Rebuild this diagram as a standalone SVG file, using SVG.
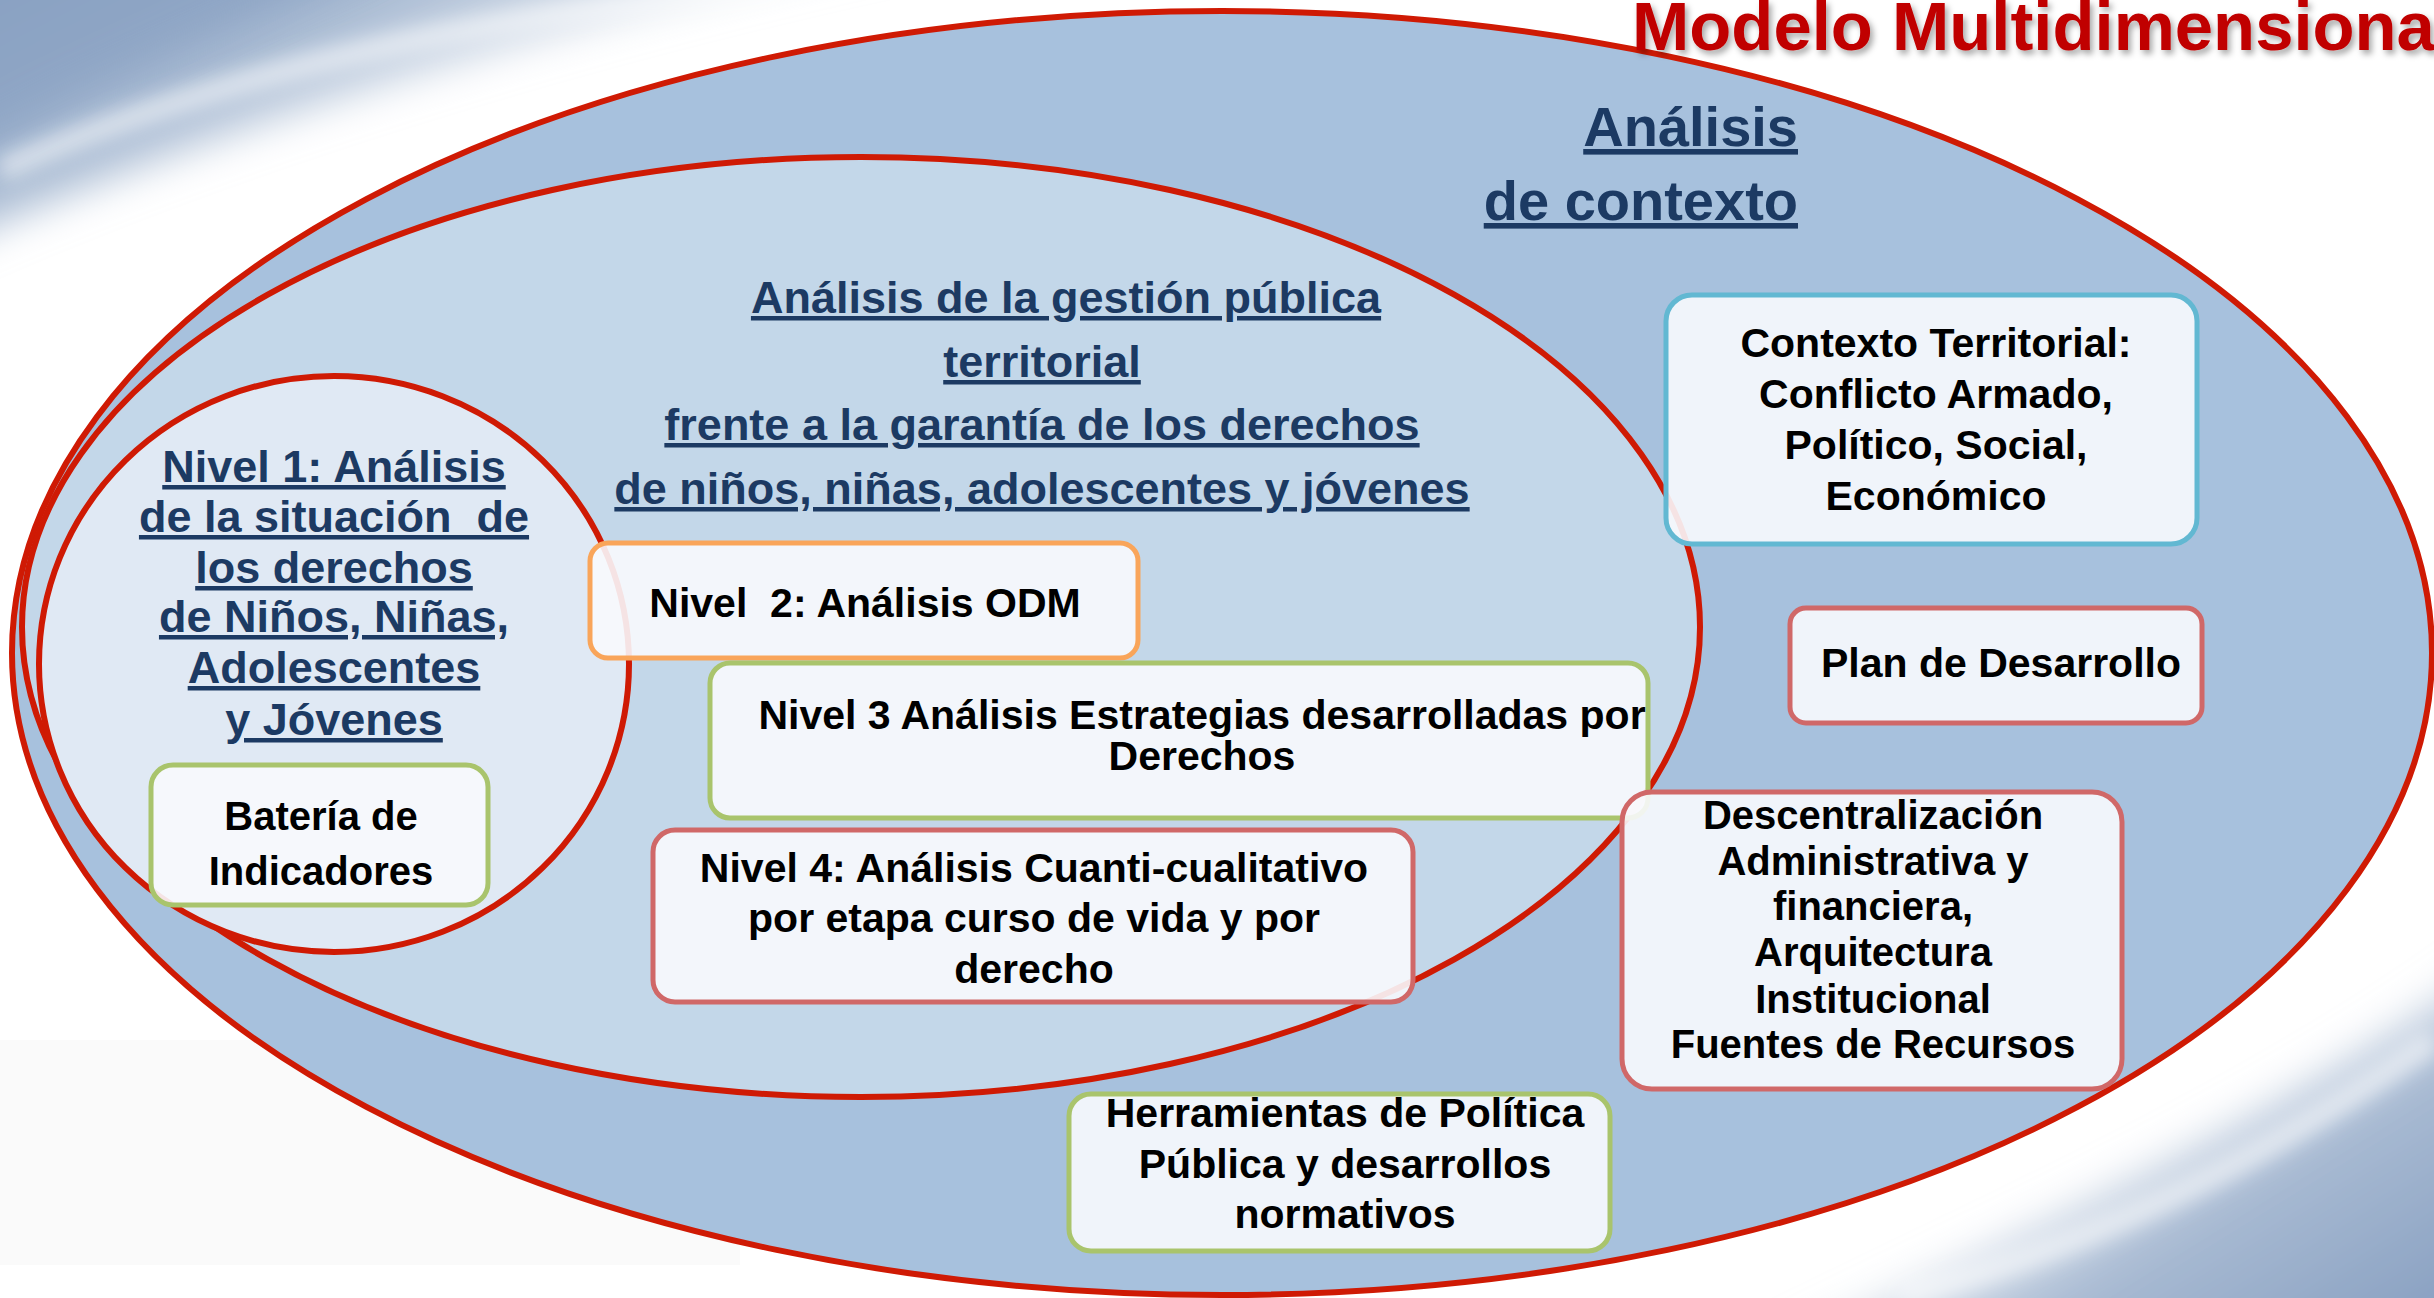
<svg xmlns="http://www.w3.org/2000/svg" width="2434" height="1298" viewBox="0 0 2434 1298">
  <defs>
    <linearGradient id="swTL" x1="0" y1="0" x2="1" y2="0.6">
      <stop offset="0" stop-color="#7F98BC"/>
      <stop offset="0.4" stop-color="#A9BBD3"/>
      <stop offset="1" stop-color="#FFFFFF" stop-opacity="0"/>
    </linearGradient>
    <linearGradient id="swBR" x1="1" y1="1" x2="0.2" y2="0.3">
      <stop offset="0" stop-color="#7F98BC"/>
      <stop offset="0.5" stop-color="#A9BBD3"/>
      <stop offset="1" stop-color="#FFFFFF" stop-opacity="0"/>
    </linearGradient>
    <filter id="blur" x="-60%" y="-60%" width="220%" height="220%">
      <feGaussianBlur stdDeviation="20"/>
    </filter>
    <filter id="blurS" x="-60%" y="-60%" width="220%" height="220%">
      <feGaussianBlur stdDeviation="10"/>
    </filter>
    <filter id="shadow" x="-5%" y="-30%" width="110%" height="160%">
      <feDropShadow dx="3" dy="4" stdDeviation="3" flood-color="#000000" flood-opacity="0.35"/>
    </filter>
    <style>
      .ring { stroke: #CF1A04; stroke-width: 6; }
      .box { fill: #F8FAFD; fill-opacity: 0.9; stroke-width: 5; }
      .cyan { stroke: #62B8D2; }
      .orange { stroke: #F9A55A; }
      .green { stroke: #A9C46C; }
      .red { stroke: #D06868; }
      .bt { font-family: "Liberation Sans", Arial, sans-serif; font-weight: bold; font-size: 41px; fill: #000000; text-anchor: middle; }
      .hd { font-family: "Liberation Sans", Arial, sans-serif; font-weight: bold; font-size: 45px; fill: #1C3A63; text-anchor: middle; text-decoration: underline; }
      .ctx { font-family: "Liberation Sans", Arial, sans-serif; font-weight: bold; font-size: 56px; fill: #1C3A63; text-anchor: end; text-decoration: underline; }
      .title { font-family: "Liberation Sans", Arial, sans-serif; font-weight: bold; font-size: 68px; fill: #C00000; }
    </style>
  </defs>

  <!-- background -->
  <rect x="0" y="0" width="2434" height="1298" fill="#FFFFFF"/>
  <g id="background">
    <path d="M-60,-60 L950,-60 C650,0 250,110 -60,250 Z" fill="url(#swTL)" filter="url(#blur)"/>
    <path d="M-60,-60 L420,-60 C280,10 90,80 -60,170 Z" fill="#8AA2C3" filter="url(#blur)" opacity="0.75"/>
    <path d="M0,170 C200,80 480,10 780,-10" fill="none" stroke="#FFFFFF" stroke-width="22" stroke-opacity="0.6" filter="url(#blurS)"/>
    <path d="M2494,960 L2494,1358 L1760,1358 C2000,1240 2280,1120 2494,960 Z" fill="url(#swBR)" filter="url(#blur)"/>
    <path d="M2434,1040 C2250,1170 2080,1250 1900,1298" fill="none" stroke="#FFFFFF" stroke-width="24" stroke-opacity="0.6" filter="url(#blurS)"/>
    <rect x="0" y="1040" width="740" height="225" fill="#FAFAFA"/>
  </g>

  <!-- rings -->
  <g id="ring-contexto">
    <ellipse class="ring" cx="1222" cy="653" rx="1210" ry="642" fill="#A7C1DD"/>
    <text class="ctx" x="1798" y="146">Análisis</text>
    <text class="ctx" x="1798" y="220">de contexto</text>
  </g>

  <g id="ring-gestion">
    <ellipse class="ring" cx="861" cy="627" rx="839" ry="470" fill="#C3D7E9"/>
    <text class="hd" x="1066" y="313">Análisis de la gestión pública</text>
    <text class="hd" x="1042" y="377">territorial</text>
    <text class="hd" x="1042" y="440">frente a la garantía de los derechos</text>
    <text class="hd" x="1042" y="504">de niños, niñas, adolescentes y jóvenes</text>
  </g>

  <g id="ring-nivel1">
    <ellipse class="ring" cx="334" cy="664" rx="295" ry="288" fill="#E0E9F4"/>
    <text class="hd" x="334" y="482">Nivel 1: Análisis</text>
    <text class="hd" x="334" y="532" xml:space="preserve">de la situación  de</text>
    <text class="hd" x="334" y="583">los derechos</text>
    <text class="hd" x="334" y="632">de Niños, Niñas,</text>
    <text class="hd" x="334" y="683">Adolescentes</text>
    <text class="hd" x="334" y="735">y Jóvenes</text>
  </g>

  <g id="connectors"></g>

  <!-- nodes -->
  <g id="node-bateria">
    <rect class="box green" x="151" y="765" width="337" height="140" rx="22"/>
    <text class="bt" x="321" y="830" style="font-size:40px">Batería de</text>
    <text class="bt" x="321" y="885" style="font-size:40px">Indicadores</text>
  </g>

  <g id="node-nivel2">
    <rect class="box orange" x="590" y="543" width="548" height="115" rx="18"/>
    <text class="bt" x="865" y="617" xml:space="preserve">Nivel  2: Análisis ODM</text>
  </g>

  <g id="node-nivel3">
    <rect class="box green" x="710" y="663" width="938" height="155" rx="20"/>
    <text class="bt" x="1202" y="729">Nivel 3 Análisis Estrategias desarrolladas por</text>
    <text class="bt" x="1202" y="770">Derechos</text>
  </g>

  <g id="node-nivel4">
    <rect class="box red" x="653" y="830" width="760" height="172" rx="22"/>
    <text class="bt" x="1034" y="882">Nivel 4: Análisis Cuanti-cualitativo</text>
    <text class="bt" x="1034" y="932">por etapa curso de vida y por</text>
    <text class="bt" x="1034" y="983">derecho</text>
  </g>

  <g id="node-herramientas">
    <rect class="box green" x="1069" y="1094" width="541" height="157" rx="22"/>
    <text class="bt" x="1345" y="1127">Herramientas de Política</text>
    <text class="bt" x="1345" y="1178">Pública y desarrollos</text>
    <text class="bt" x="1345" y="1228">normativos</text>
  </g>

  <g id="node-contexto-territorial">
    <rect class="box cyan" x="1666" y="295" width="531" height="249" rx="26"/>
    <text class="bt" x="1936" y="357">Contexto Territorial:</text>
    <text class="bt" x="1936" y="408">Conflicto Armado,</text>
    <text class="bt" x="1936" y="459">Político, Social,</text>
    <text class="bt" x="1936" y="510">Económico</text>
  </g>

  <g id="node-plan">
    <rect class="box red" x="1790" y="608" width="412" height="115" rx="16"/>
    <text class="bt" x="2001" y="677">Plan de Desarrollo</text>
  </g>

  <g id="node-descentralizacion">
    <rect class="box red" x="1622" y="792" width="500" height="297" rx="30"/>
    <text class="bt" x="1873" y="829" style="font-size:40px">Descentralización</text>
    <text class="bt" x="1873" y="875" style="font-size:40px">Administrativa y</text>
    <text class="bt" x="1873" y="920" style="font-size:40px">financiera,</text>
    <text class="bt" x="1873" y="966" style="font-size:40px">Arquitectura</text>
    <text class="bt" x="1873" y="1013" style="font-size:40px">Institucional</text>
    <text class="bt" x="1873" y="1058" style="font-size:40px">Fuentes de Recursos</text>
  </g>

  <g id="title">
    <text class="title" x="1632" y="50" textLength="822" lengthAdjust="spacingAndGlyphs" filter="url(#shadow)">Modelo Multidimensional</text>
  </g>
</svg>
